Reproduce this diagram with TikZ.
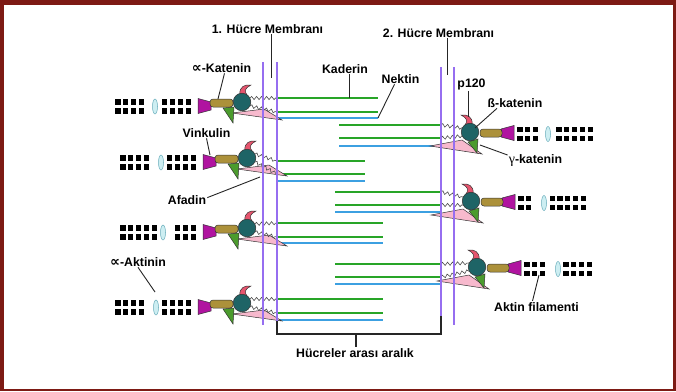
\documentclass[tikz,border=0pt]{standalone}
\usepackage{fontspec}
\setmainfont{Liberation Sans}
\newfontfamily\symfont{DejaVu Sans}
\newfontfamily\greekfont{Liberation Serif}
\usetikzlibrary{decorations.pathmorphing}

\definecolor{framered}{RGB}{125,26,20}
\definecolor{memb}{RGB}{150,110,240}
\definecolor{cadh}{RGB}{40,165,40}
\definecolor{nect}{RGB}{60,160,225}
\definecolor{alphacat}{RGB}{172,145,58}
\definecolor{vinc}{RGB}{176,20,160}
\definecolor{betacat}{RGB}{30,100,102}
\definecolor{pcat}{RGB}{230,85,110}
\definecolor{gamcat}{RGB}{75,155,45}
\definecolor{afad}{RGB}{247,185,205}
\definecolor{actn}{RGB}{205,238,242}
\definecolor{actnedge}{RGB}{100,170,185}

\tikzset{
  memline/.style={memb, line width=2pt},
  cadline/.style={cadh, line width=2.2pt},
  nectline/.style={nect, line width=2pt},
  ptr/.style={black!85, line width=0.9pt},
  lbl/.style={font=\bfseries\fontsize{12.3}{14}\selectfont, inner sep=1pt, anchor=base},
  tail/.style={decorate, decoration={snake, segment length=5pt, amplitude=1.6pt},
               line width=0.6pt, black!70},
  part/.style={draw=black!80, line width=0.5pt},
}

% proportional-to sign used as an alpha in the labels
\newcommand{\alphasign}{{\symfont\bfseries\fontsize{14}{14}\selectfont ∝}}

% junction plaque on the left cell: #1 cx, #2 cy, #3 actin start, #4 alpha-actinin x,
% #5 and #6 heights where the two cadherin tails reach the membrane
\newcommand{\LeftJunction}[6]{%
  \filldraw[part, fill=afad] (#1-10,#2+11) -- (#1+22,#2+7) -- (#1+40,#2+18) -- cycle;
  \filldraw[part, fill=gamcat] (#1-19,#2+6) -- (#1-8,#2+5) -- (#1-9,#2+21) -- cycle;
  \draw[tail] (#1+8,#2-4) -- (277,#5);
  \draw[tail] (#1+8,#2+4) -- (277,#6);
  \foreach \i in {0,...,12}{%
    \pgfmathsetmacro\xx{#3+\i*7.8}%
    \pgfmathtruncatemacro\ok{(abs(\xx-#4)>=8)&&(\xx<=#1-47)}%
    \ifnum\ok=1
      \fill (\xx-2.6,#2-2.6) rectangle (\xx+2.6,#2+2.6);
      \fill (\xx-2.6,#2+6.4) rectangle (\xx+2.6,#2+11.6);
    \fi}
  \filldraw[draw=actnedge, line width=0.5pt, fill=actn] (#4,#2+4.5) ellipse (2.5pt and 7.5pt);
  \filldraw[part, fill=vinc] (#1-44,#2-3.5) -- (#1-31,#2) -- (#1-31,#2+8) -- (#1-44,#2+11.5) -- cycle;
  \filldraw[part, fill=alphacat, rounded corners=3pt] (#1-32,#2-3) rectangle (#1-9,#2+5);
  \filldraw[part, fill=pcat] (#1-2,#2-8) .. controls (#1-3,#2-15) and (#1+3,#2-18) .. (#1+9,#2-17)
     .. controls (#1+3,#2-14) and (#1+2,#2-11) .. (#1+5,#2-7) -- cycle;
  \filldraw[part, fill=betacat] (#1,#2) circle (8.8pt);
}

% junction plaque on the right cell: #3 is where the actin filament ends
\newcommand{\RightJunction}[6]{%
  \filldraw[part, fill=afad] (#1+12,#2+22) -- (#1-8,#2+8) -- (#1-40,#2+14) -- cycle;
  \filldraw[part, fill=gamcat] (#1-2,#2+10) -- (#1+8,#2+7) -- (#1+7,#2+21) -- cycle;
  \draw[tail] (441,#5) -- (#1-8,#2-4);
  \draw[tail] (441,#6) -- (#1-8,#2+4);
  \foreach \i in {0,...,12}{%
    \pgfmathsetmacro\xx{#1+50+\i*7.8}%
    \pgfmathtruncatemacro\ok{(abs(\xx-#4)>=8)&&(\xx<=#3)}%
    \ifnum\ok=1
      \fill (\xx-2.6,#2-5.4) rectangle (\xx+2.6,#2-0.2);
      \fill (\xx-2.6,#2+4.2) rectangle (\xx+2.6,#2+9.4);
    \fi}
  \filldraw[draw=actnedge, line width=0.5pt, fill=actn] (#4,#2+2) ellipse (2.5pt and 7.5pt);
  \filldraw[part, fill=vinc] (#1+44,#2-6.5) -- (#1+31,#2-3) -- (#1+31,#2+5) -- (#1+44,#2+8.5) -- cycle;
  \filldraw[part, fill=alphacat, rounded corners=3pt] (#1+10,#2-3) rectangle (#1+32,#2+5);
  \filldraw[part, fill=pcat] (#1+2,#2-8) .. controls (#1+3,#2-15) and (#1-3,#2-18) .. (#1-9,#2-17)
     .. controls (#1-3,#2-14) and (#1-2,#2-11) .. (#1-5,#2-7) -- cycle;
  \filldraw[part, fill=betacat] (#1,#2) circle (8.8pt);
}

\begin{document}
\begin{tikzpicture}[x=1pt, y=-1pt]
  \useasboundingbox (0,0) rectangle (676,391);
  \fill[white] (0,0) rectangle (676,391);

  % frame
  \fill[framered] (0,0) rectangle (676,5);
  \fill[framered] (0,0) rectangle (4,391);
  \fill[framered] (0,388.5) rectangle (676,391);
  \fill[framered] (673,0) rectangle (676,391);

  % cadherin (green) and nectin (blue) strands from the left cell
  \foreach \ga/\gb/\bl/\e in {98/112/118/378, 161/174/181/365, 223/237/243/383, 299/313/320/383}{
    \draw[cadline] (277,\ga) -- (\e,\ga);
    \draw[cadline] (277,\gb) -- (\e,\gb);
    \draw[nectline] (277,\bl) -- (\e,\bl);
  }
  % strands from the right cell
  \foreach \ga/\gb/\bl/\s in {125/138/146/339, 192/205/212/335, 264/277/284/335}{
    \draw[cadline] (\s,\ga) -- (441,\ga);
    \draw[cadline] (\s,\gb) -- (441,\gb);
    \draw[nectline] (\s,\bl) -- (441,\bl);
  }

  % cytoplasmic plaques
  \LeftJunction{242}{102}{118}{155}{98}{112}
  \LeftJunction{247}{158}{123}{161}{161}{174}
  \LeftJunction{247}{228}{123}{163}{223}{237}
  \LeftJunction{242}{303}{118}{156}{299}{313}
  \RightJunction{470}{132}{593}{548}{125}{138}
  \RightJunction{471}{201}{588}{544}{192}{205}
  \RightJunction{477}{267}{593}{558}{264}{277}

  % membranes
  \draw[memline] (263,62) -- (263,325);
  \draw[memline] (277,62) -- (277,322);
  \draw[memline] (441,67) -- (441,317);
  \draw[memline] (454,67) -- (454,325);

  % intercellular gap bracket
  \coordinate (gapA) at (277,321);
  \coordinate (gapB) at (277,334);
  \coordinate (gapC) at (441,334);
  \coordinate (gapD) at (441,316);
  \coordinate (gapM) at (356,334);
  \draw[black!85, line width=1.1pt] (gapA) -- (gapB) -- (gapC) -- (gapD);
  \node[lbl] (gapl) at (355,357) {Hücreler arası aralık};
  \draw[black!85, line width=1.1pt] (gapM) -- (gapl.north -| gapM);

  % pointer targets
  \coordinate (m1) at (271,78);
  \coordinate (m2) at (447,75);
  \coordinate (kadp) at (349,98);
  \coordinate (nekp) at (378,118);
  \coordinate (acatp) at (218,99);
  \coordinate (vinp) at (210,155);
  \coordinate (afap) at (260,177);
  \coordinate (aktp) at (155,292);
  \coordinate (p120p) at (468,117);
  \coordinate (bcatp) at (475,128);
  \coordinate (gcatp) at (480,145);
  \coordinate (filp) at (539,275);

  % labels
  \node[lbl] (m1l) at (267.5,33) {1. Hücre Membranı};
  \node[lbl] (m2l) at (438.5,37) {2. Hücre Membranı};
  \node[lbl] (kadl) at (345,73) {Kaderin};
  \node[lbl] (nekl) at (400.5,83) {Nektin};
  \node[lbl] (acatl) at (221.5,72) {\alphasign-Katenin};
  \node[lbl] (vinl) at (206.5,137) {Vinkulin};
  \node[lbl] (afal) at (187,204) {Afadin};
  \node[lbl] (aktl) at (138,266) {\alphasign-Aktinin};
  \node[lbl] (p120l) at (471.5,87) {p120};
  \node[lbl] (bcatl) at (515,107) {ß-katenin};
  \node[lbl] (gcatl) at (535.5,163) {{\greekfont\mdseries\fontsize{14}{14}\selectfont γ}-katenin};
  \node[lbl] (fill) at (536.5,311) {Aktin filamenti};

  % pointers
  \draw[ptr] (m1l.south -| m1) -- (m1);
  \draw[ptr] (m2l.south -| m2) -- (m2);
  \draw[ptr] (kadl.south -| kadp) -- (kadp);
  \draw[ptr] ([xshift=-6pt]nekl.south) -- (nekp);
  \draw[ptr] ([xshift=3pt]acatl.south) -- (acatp);
  \draw[ptr] (vinl.south) -- (vinp);
  \draw[ptr] ([yshift=2pt]afal.east) -- (afap);
  \draw[ptr] (aktl.south) -- (aktp);
  \draw[ptr] (p120l.south -| p120p) -- (p120p);
  \draw[ptr] ([xshift=-18pt]bcatl.south) -- (bcatp);
  \draw[ptr] ([yshift=5pt]gcatl.west) -- (gcatp);
  \draw[ptr] ([xshift=-4pt]fill.north) -- (filp);
\end{tikzpicture}
\end{document}
